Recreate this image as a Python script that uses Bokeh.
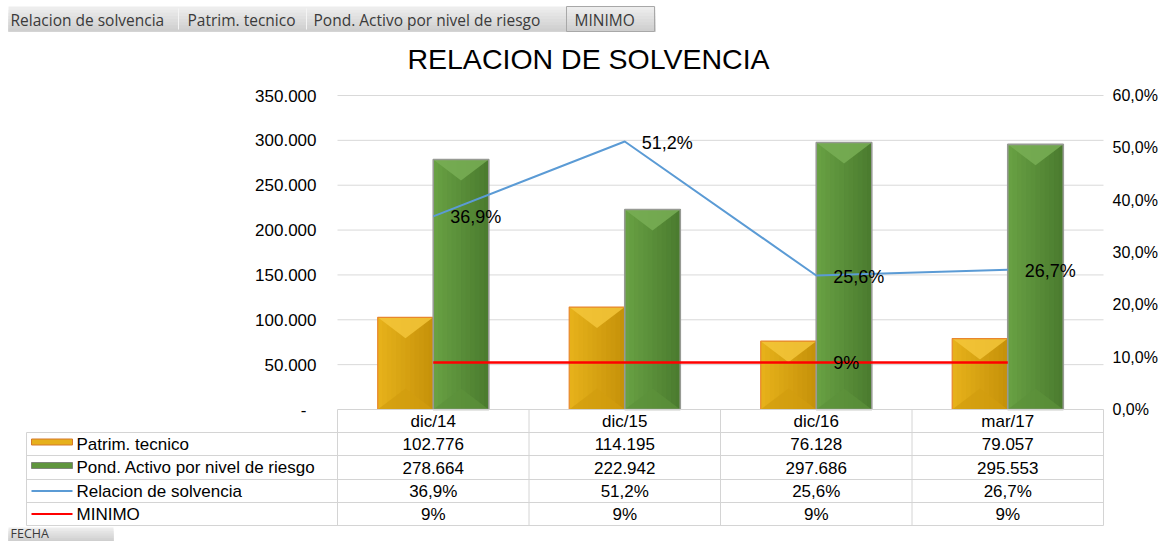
import numpy as np
from bokeh.plotting import figure
from bokeh.models import Range1d, ColumnDataSource
from bokeh.embed import file_html
from bokeh.resources import INLINE
from bokeh.core.properties import value

# ---------------- data ----------------
categories = ["dic/14", "dic/15", "dic/16", "mar/17"]
patrim_tecnico = [102776, 114195, 76128, 79057]
pond_activo = [278664, 222942, 297686, 295553]
relacion_solvencia = [0.369, 0.512, 0.256, 0.267]
minimo = [0.09, 0.09, 0.09, 0.09]
series_names = ["Patrim. tecnico", "Pond. Activo por nivel de riesgo",
                "Relacion de solvencia", "MINIMO"]
left_ticks = [0, 50000, 100000, 150000, 200000, 250000, 300000, 350000]
right_ticks = [0.0, 0.1, 0.2, 0.3, 0.4, 0.5, 0.6]
field_buttons = ["Relacion de solvencia", "Patrim. tecnico",
                 "Pond. Activo por nivel de riesgo", "MINIMO"]
axis_button = "FECHA"
chart_title = "RELACION DE SOLVENCIA"
minimo_label_index = 2

# ---------------- layout (canvas pixels) ----------------
W, H = 1158, 541
PL, PR, PT, PB = 337, 1103, 95, 409
VMAX, PMAX = 350000, 0.6
n = len(categories)

ppx = (PR - PL) / n
ppv = (PB - PT) / VMAX
ppp = (PB - PT) / PMAX
cat_range = Range1d(-PL / ppx, n + (W - PR) / ppx)
val_range = Range1d(-(H - PB) / ppv, PB / ppv)
pct_range = Range1d(-(H - PB) / ppp, PB / ppp)

p = figure(width=W, height=H, x_range=Range1d(0, W), y_range=Range1d(H, 0),
           output_backend="svg", toolbar_location=None, min_border=0,
           x_axis_location=None, y_axis_location=None)
p.extra_x_ranges = {"cat": cat_range}
p.extra_y_ranges = {"val": val_range, "pct": pct_range}
p.outline_line_color = None
p.grid.visible = False
p.background_fill_color = "white"
p.border_fill_color = "white"

FONT = value("Liberation Sans")
UI_FONT = value("Open Sans")


def fmt_thousands(v):
    return "-" if v == 0 else f"{v:,.0f}".replace(",", ".")


def fmt_pct1(v):
    return f"{v * 100:.1f}%".replace(".", ",")


def fmt_pct0(v):
    return f"{v * 100:.0f}%"


def lerp_hex(c0, c1, t):
    a = [int(c0[i:i + 2], 16) for i in (1, 3, 5)]
    b = [int(c1[i:i + 2], 16) for i in (1, 3, 5)]
    return "#" + "".join(f"{round(x + (y - x) * t):02x}" for x, y in zip(a, b))


# ---------------- field buttons ----------------
band_top, band_bot = ("#EDEDED", "#CFCFCF")
nb = 8
for k in range(nb):
    c = lerp_hex(band_top, band_bot, k / (nb - 1))
    p.quad(left=[8], right=[655], top=[6 + k * 25 / nb], bottom=[31],
           fill_color=c, line_color=None)
    p.quad(left=[8], right=[113], top=[527 + k * 14 / nb], bottom=[541],
           fill_color=c, line_color=None)
p.segment(x0=[178, 306], x1=[178, 306], y0=[8, 8], y1=[29, 29],
          line_color="#F4F4F4", line_width=1)
p.quad(left=[566], right=[654], top=[6], bottom=[31], fill_color=None,
       line_color="#A8A8A8", line_width=1)
p.text(x=[10, 187, 313, 574], y=[19] * 4, text=field_buttons, text_font=UI_FONT,
       text_font_size="15.5px", text_color="#3A3A3A", text_align="left",
       text_baseline="middle")
p.text(x=[10], y=[533], text=[axis_button], text_font=UI_FONT, text_font_size="12.5px",
       text_color="#3A3A3A", text_align="left", text_baseline="middle")

# ---------------- title ----------------
p.text(x=[588], y=[58], text=[chart_title], text_font=FONT,
       text_font_size="28.5px", text_color="#000000", text_align="center",
       text_baseline="middle")

# ---------------- gridlines ----------------
gt = left_ticks[1:]
p.segment(x0=[0] * len(gt), x1=[n] * len(gt), y0=gt, y1=gt, x_range_name="cat",
          y_range_name="val", line_color="#D9D9D9", line_width=1)

# ---------------- bars with bevel ----------------
xc = np.arange(n) + 0.5
bw = 0.29
grad = {"orange": ("#E6B11A", "#C6920A"), "green": ("#68A043", "#4B7C2F")}
top_cols = {"orange": "#F3C53A", "green": "#78AE55"}
bot_cols = {"orange": "#D19C0E", "green": "#5C923B"}
edge_cols = {"orange": ("#E8862C", 1.2), "green": ("#979A94", 1.6)}


def draw_bars(centers, vals, key):
    vals = np.asarray(vals, dtype=float)
    left = centers - bw / 2
    right = centers + bw / 2
    ns = 12
    for k in range(ns):
        c = lerp_hex(grad[key][0], grad[key][1], k / (ns - 1))
        # each strip runs to the bar's right edge, so later strips overlay earlier ones
        p.quad(left=left + k * bw / ns, right=right,
               bottom=np.zeros(n), top=vals, x_range_name="cat", y_range_name="val",
               fill_color=c, line_color=None)
    d = np.minimum(21 / ppv, vals / 2)
    xs = [[l, r, c] for l, r, c in zip(left, right, centers)]
    p.patches(xs=xs, ys=[[v, v, v - dd] for v, dd in zip(vals, d)],
              x_range_name="cat", y_range_name="val", fill_color=top_cols[key],
              fill_alpha=0.85, line_color=None)
    p.patches(xs=xs, ys=[[0, 0, dd] for dd in d], x_range_name="cat",
              y_range_name="val", fill_color=bot_cols[key], fill_alpha=0.7,
              line_color=None)
    lc, lw = edge_cols[key]
    p.quad(left=left, right=right, bottom=np.zeros(n), top=vals, x_range_name="cat",
           y_range_name="val", fill_color=None, line_color=lc, line_width=lw)


draw_bars(xc - bw / 2, patrim_tecnico, "orange")
draw_bars(xc + bw / 2, pond_activo, "green")

# ---------------- lines ----------------
p.line(xc, relacion_solvencia, x_range_name="cat", y_range_name="pct",
       line_color="#5B9BD5", line_width=2)
p.line(xc, minimo, x_range_name="cat", y_range_name="pct",
       line_color="#FF0000", line_width=2.5)

p.text(x=xc, y=relacion_solvencia, text=[fmt_pct1(v) for v in relacion_solvencia],
       x_range_name="cat", y_range_name="pct", x_offset=17, y_offset=1,
       text_font=FONT, text_font_size="18px", text_color="#000000",
       text_align="left", text_baseline="middle")
p.text(x=[xc[minimo_label_index]], y=[minimo[minimo_label_index]],
       text=[fmt_pct0(minimo[minimo_label_index])], x_range_name="cat",
       y_range_name="pct", x_offset=17, y_offset=1, text_font=FONT,
       text_font_size="18px", text_color="#000000", text_align="left",
       text_baseline="middle")

# ---------------- axes labels ----------------
lsrc = ColumnDataSource(dict(
    x=[316] * len(left_ticks), y=left_ticks,
    t=[fmt_thousands(v) for v in left_ticks],
    xo=[-10 if v == 0 else 0 for v in left_ticks]))
p.text(x="x", y="y", text="t", x_offset="xo", source=lsrc, y_range_name="val",
       text_font=FONT, text_font_size="17px", text_color="#000000",
       text_align="right", text_baseline="middle")
p.text(x=[1112] * len(right_ticks), y=right_ticks,
       text=[fmt_pct1(v) for v in right_ticks], y_range_name="pct",
       text_font=FONT, text_font_size="16px", text_color="#000000",
       text_align="left", text_baseline="middle")

# ---------------- data table ----------------
row_edges = [PB, 432, 455, 479, 502, 525]
TL = 26
grid_c = "#D4D4D4"
col_x = [PL + i * ppx for i in range(n + 1)]
p.segment(x0=col_x, x1=col_x, y0=[PB] * (n + 1), y1=[row_edges[-1]] * (n + 1),
          line_color=grid_c, line_width=1)
p.segment(x0=[TL], x1=[TL], y0=[row_edges[1]], y1=[row_edges[-1]],
          line_color=grid_c, line_width=1)
p.segment(x0=[PL], x1=[PR], y0=[PB], y1=[PB], line_color=grid_c, line_width=1)
p.segment(x0=[TL] * 5, x1=[PR] * 5, y0=row_edges[1:], y1=row_edges[1:],
          line_color=grid_c, line_width=1)

row_c = [(row_edges[i] + row_edges[i + 1]) / 2 for i in range(len(row_edges) - 1)]
tkw = dict(text_font=FONT, text_font_size="17px", text_color="#000000",
           text_baseline="middle")
p.text(x=xc, y=[row_c[0]] * n, text=categories, x_range_name="cat",
       text_align="center", **tkw)
rows = [[fmt_thousands(v) for v in patrim_tecnico],
        [fmt_thousands(v) for v in pond_activo],
        [fmt_pct1(v) for v in relacion_solvencia],
        [fmt_pct0(v) for v in minimo]]
for r, vals in enumerate(rows):
    p.text(x=xc, y=[row_c[r + 1]] * n, text=vals, x_range_name="cat",
           text_align="center", **tkw)
p.text(x=[76] * 4, y=row_c[1:], text=series_names, text_align="left", **tkw)

# legend keys
p.quad(left=[31], right=[72], top=[row_c[1] - 5], bottom=[row_c[1] + 1],
       fill_color="#E6B01C", line_color="#D5792A", line_width=1)
p.quad(left=[31], right=[72], top=[row_c[2] - 5], bottom=[row_c[2] + 1],
       fill_color="#5F953D", line_color="#7E8579", line_width=1)
p.segment(x0=[31], x1=[72], y0=[row_c[3]], y1=[row_c[3]], line_color="#5B9BD5",
          line_width=2)
p.segment(x0=[31], x1=[72], y0=[row_c[4]], y1=[row_c[4]], line_color="#FF0000",
          line_width=2)

open("out.html", "w").write(file_html(p, INLINE))
